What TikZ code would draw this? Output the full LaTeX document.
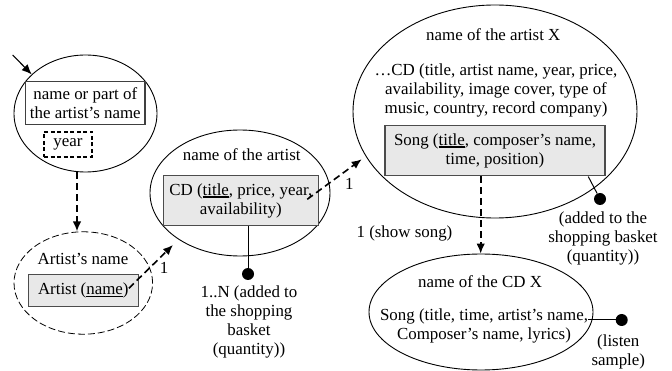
\documentclass[tikz,border=0pt]{standalone}
\usepackage{fontspec}
\setmainfont{Liberation Serif}
\usetikzlibrary{shapes.geometric,arrows.meta,calc}
\newcommand\myul[1]{\setbox0\hbox{#1}\rlap{\rule[-2.6pt]{\wd0}{1.5pt}}\box0}
\begin{document}
\begin{tikzpicture}[x=1pt,y=-1pt,
  every node/.style={font=\fontsize{16.9}{19}\selectfont, inner sep=0pt, align=center},
  oval/.style={ellipse, draw, line width=0.9pt},
  doval/.style={ellipse, draw, line width=0.8pt, dash pattern=on 7pt off 3pt},
  wbox/.style={draw=black!75, line width=1.1pt, fill=white},
  gbox/.style={draw=black!70, line width=1.1pt, fill=black!9},
  ybox/.style={draw, line width=1.4pt, dash pattern=on 4pt off 2.5pt},
  darr/.style={line width=1.6pt, dash pattern=on 7pt off 4pt, -{Latex[length=10pt,width=8.5pt]}},
  sarr/.style={line width=1.1pt, -{Latex[length=10pt,width=8.5pt]}},
  link/.style={line width=1pt},
  dot/.style={circle, fill, minimum size=12pt, inner sep=0pt}
]
\useasboundingbox (0,0) rectangle (672,371);

% ellipse 1
\node[oval, minimum width=143pt, minimum height=117pt] (e1) at (85.5,113.5) {};
\node[wbox, minimum width=119.3pt, minimum height=43.3pt] (b1) at (85.3,103.3) {name or part of\\the artist’s name};
\node[ybox, minimum width=48pt, minimum height=25pt] (yr) at (68,144.5) {year};
\coordinate (in0) at (12.7,55);
\draw[sarr] (in0) -- (e1.144);

% ellipse 2
\node[doval, minimum width=138.6pt, minimum height=102.4pt] (e2) at (83.3,283) {};
\node (t2) at (83,259) {Artist’s name};
\node[gbox, minimum width=110pt, minimum height=31.7pt] (b2) at (83.3,290.8) {Artist (\myul{name})};
\draw[darr] ($(e1.south)+(-8.5,0)$) coordinate (s1) -- (s1 |- e2.north);

% ellipse 3
\node[oval, minimum width=180pt, minimum height=126pt] (e3) at (240,193) {};
\node (t3) at (241.7,155) {name of the artist};
\node[gbox, minimum width=155pt, minimum height=50pt] (b3) at (240.8,200.7) {CD (\myul{title}, price, year,\\availability)};
\node[dot] (d3) at (248,274) {};
\draw[link] (b3.south -| d3) -- (d3);
\node (l3) at (249,321.8) {1..N (added to\\the shopping\\basket\\(quantity))};
\draw[darr] ($(b2.east)+(-10,-2.5)$) -- ($(e3.center)+(-67,52)$);
\node (n1a) at (164,268) {1};

% ellipse 4
\node[oval, minimum width=284pt, minimum height=213pt] (e4) at (495,111.5) {};
\node (t4) at (493.3,35) {name of the artist X};
\node (c4) at (496,90) {…CD (title, artist name, year, price,\\availability, image cover, type of\\music, country, record company)};
\node[gbox, minimum width=220pt, minimum height=50.3pt] (b4) at (495,150.8) {Song (\myul{title}, composer’s name,\\time, position)};
\node[dot] (d4) at (600,199) {};
\draw[link] ($(b4.south east)+(-17.3,0)$) -- (d4);
\node (l4) at (603,238.3) {(added to the\\shopping basket\\(quantity))};
\draw[darr] ($(b3.east)+(-11.6,-1.4)$) -- ($(e4.center)+(-133.3,47.8)$);
\node (n1b) at (349.3,184.3) {1};

% ellipse 5
\node[oval, minimum width=224pt, minimum height=116pt] (e5) at (481,312) {};
\node (t5) at (480,281.7) {name of the CD X};
\node (c5) at (484,326) {Song (title, time, artist’s name,\\Composer’s name, lyrics)};
\node[dot] (d5) at (621.7,320) {};
\draw[link] (c5.east |- d5) -- (d5);
\node (l6) at (618.3,351.7) {(listen\\sample)};
\draw[darr] ($(b4.south)+(-14.3,0)$) coordinate (s4) -- (s4 |- e5.north);
\node (l5) at (404.5,233.3) {1 (show song)};
\end{tikzpicture}
\end{document}
